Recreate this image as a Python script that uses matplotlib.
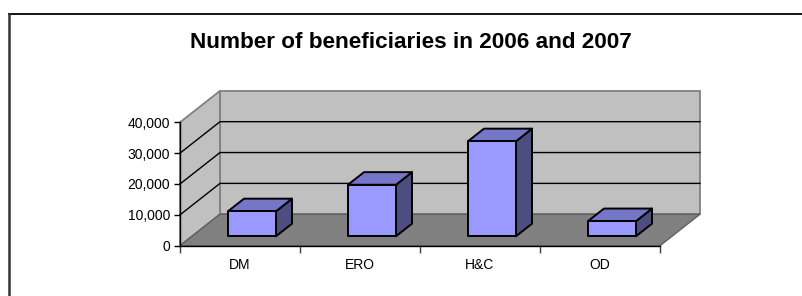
import matplotlib
matplotlib.use("Agg")
import matplotlib.pyplot as plt
from matplotlib.patches import Polygon
from matplotlib.lines import Line2D

# ---- data ----
categories = ["DM", "ERO", "H&C", "OD"]
values = [8100, 16700, 30800, 4900]
yticks = [0, 10000, 20000, 30000, 40000]
ytick_labels = ["0", "10,000", "20,000", "30,000", "40,000"]
title = "Number of beneficiaries in 2006 and 2007"

plt.rcParams["font.family"] = ["Liberation Sans", "DejaVu Sans"]

W, H = 803, 296
fig = plt.figure(figsize=(W / 100, H / 100), dpi=100)
fig.patch.set_facecolor("white")

# plot region (front plane)
ax = fig.add_axes([180 / W, (H - 245.7) / H, 480 / W, 123.4 / H])
ax.set_xlim(-0.5, len(categories) - 0.5)
ax.set_ylim(0, 40000)
ax.patch.set_visible(False)

# 3-D projection offsets for depth (fraction 0..1)
DX = 1 / 3.0
DY = 10200.0


def P(x, y, d):
    return (x + d * DX, y + d * DY)


x0, x1 = -0.5, len(categories) - 0.5
ymax = yticks[-1]
wall_c = "#C0C0C0"
edge_gray = "#808080"

# back wall
ax.add_patch(Polygon([P(x0, 0, 1), P(x1, 0, 1), P(x1, ymax, 1), P(x0, ymax, 1)],
                     closed=True, facecolor=wall_c, edgecolor=edge_gray, lw=1.3,
                     clip_on=False, zorder=1))
# side wall
ax.add_patch(Polygon([P(x0, 0, 0), P(x0, 0, 1), P(x0, ymax, 1), P(x0, ymax, 0)],
                     closed=True, facecolor=wall_c, edgecolor=edge_gray, lw=1.3,
                     clip_on=False, zorder=1))
# gridlines
for v in yticks[1:-1]:
    a, b, c = P(x0, v, 0), P(x0, v, 1), P(x1, v, 1)
    ax.add_line(Line2D([a[0], b[0], c[0]], [a[1], b[1], c[1]], color="black",
                       lw=1.0, clip_on=False, zorder=2))
# floor
ax.add_patch(Polygon([P(x0, 0, 0), P(x1, 0, 0), P(x1, 0, 1), P(x0, 0, 1)],
                     closed=True, facecolor="#808080", edgecolor="#606060", lw=1.0,
                     clip_on=False, zorder=3))

# bars
bw = 0.4
d0, d1 = 0.3, 0.7
front_c, top_c, side_c = "#9999FF", "#7676C8", "#4D4D80"
for i, v in enumerate(values):
    l, r = i - bw / 2, i + bw / 2
    side = [P(r, 0, d0), P(r, 0, d1), P(r, v, d1), P(r, v, d0)]
    top = [P(l, v, d0), P(r, v, d0), P(r, v, d1), P(l, v, d1)]
    front = [P(l, 0, d0), P(r, 0, d0), P(r, v, d0), P(l, v, d0)]
    for poly, col in ((side, side_c), (top, top_c), (front, front_c)):
        ax.add_patch(Polygon(poly, closed=True, facecolor=col, edgecolor="black",
                             lw=1.4, joinstyle="round", clip_on=False, zorder=4))

# axes styling
for s in ("top", "right"):
    ax.spines[s].set_visible(False)
for s in ("left", "bottom"):
    ax.spines[s].set_color("black")
    ax.spines[s].set_linewidth(1.0)
    ax.spines[s].set_zorder(5)

ax.set_yticks(yticks)
ax.set_yticklabels(ytick_labels)
ax.tick_params(axis="y", direction="out", length=4, width=1.0, pad=3,
               labelsize=10, colors="black")

ax.set_xticks(range(len(categories)))
ax.set_xticklabels(categories)
ax.set_xticks([i - 0.5 for i in range(len(categories) + 1)], minor=True)
ax.tick_params(axis="x", which="major", length=0, pad=9, labelsize=10)
ax.tick_params(axis="x", which="minor", direction="out", length=5, width=1.0,
               color="#404040")

# title
fig.text(411 / W, 1 - 42 / H, title, ha="center", va="center",
         fontsize=16.2, fontweight="bold", color="black")

# chart-area border (top and left visible)
fig.add_artist(Line2D([9.5 / W, 1.0], [1 - 14 / H, 1 - 14 / H], color="black",
                      lw=1.3, transform=fig.transFigure))
fig.add_artist(Line2D([9.5 / W, 9.5 / W], [0, 1 - 14 / H], color="#333333",
                      lw=1.8, transform=fig.transFigure))

fig.savefig("out.png", dpi=100)
